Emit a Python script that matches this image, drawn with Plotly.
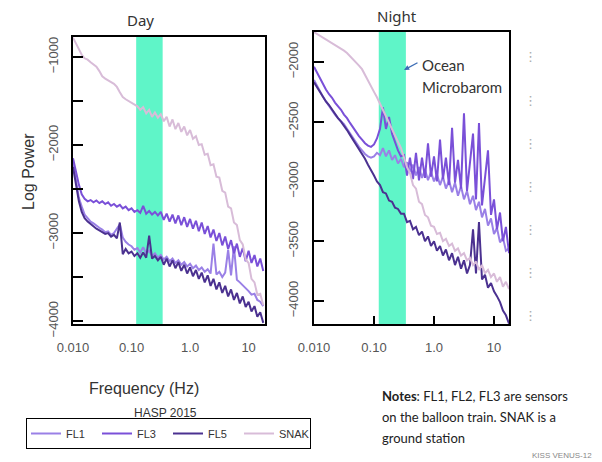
import plotly.graph_objects as go

# ---------------- data ----------------
freq = [
    0.0100, 0.0112, 0.0126, 0.0141, 0.0158, 0.0178, 0.0200, 0.0224, 0.0251, 0.0282,
    0.0316, 0.0355, 0.0398, 0.0447, 0.0501, 0.0562, 0.0631, 0.0708, 0.0794, 0.0891,
    0.100, 0.112, 0.126, 0.141, 0.158, 0.178, 0.200, 0.224, 0.251, 0.282,
    0.316, 0.355, 0.398, 0.447, 0.501, 0.562, 0.631, 0.708, 0.794, 0.891,
    1.00, 1.12, 1.26, 1.41, 1.58, 1.78, 2.00, 2.24, 2.51, 2.82,
    3.16, 3.55, 3.98, 4.47, 5.01, 5.62, 6.31, 7.08, 7.94, 8.91,
    10.0, 11.2, 12.6, 14.1, 15.8, 17.8,
]

day_fl1 = [
    -2200, -2420, -2600, -2700, -2790, -2830, -2870, -2890, -2920, -2940,
    -2960, -2990, -2980, -3020, -3000, -2950, -2900, -3050, -3100, -3130,
    -3150, -3190, -3170, -3220, -3160, -3230, -3200, -3260, -3230, -3280,
    -3250, -3300, -3270, -3320, -3290, -3340, -3310, -3360, -3330, -3380,
    -3350, -3400, -3370, -3420, -3390, -3440, -3410, -3460, -3120, -3470,
    -3440, -3500, -3450, -3190, -3480, -3150, -3530, -3560, -3590, -3630,
    -3660, -3700, -3690, -3760, -3780, -3830,
]
day_fl3 = [
    -2150, -2300, -2450, -2560, -2610, -2640, -2625, -2650, -2630, -2660,
    -2640, -2670, -2650, -2690, -2670, -2700, -2680, -2720, -2700, -2740,
    -2720, -2760, -2740, -2770, -2690, -2780, -2750, -2790, -2760, -2800,
    -2760, -2850, -2780, -2870, -2790, -2890, -2800, -2910, -2820, -2930,
    -2840, -2950, -2860, -2980, -2880, -3010, -2920, -3050, -2960, -3090,
    -3000, -3140, -3040, -3180, -3080, -3230, -3120, -3270, -3170, -3320,
    -3200, -3340, -3250, -3380, -3290, -3430,
]
day_fl5 = [
    -2250, -2450, -2640, -2760, -2830, -2870, -2900, -2920, -2950, -2970,
    -2990, -3010, -3000, -3040, -3020, -3060, -2880, -3240, -3180, -3230,
    -3210, -3260, -3230, -3280, -3220, -3280, -3030, -3290, -3260, -3310,
    -3270, -3360, -3290, -3380, -3310, -3400, -3330, -3430, -3360, -3460,
    -3390, -3490, -3420, -3520, -3450, -3560, -3480, -3600, -3520, -3640,
    -3560, -3680, -3600, -3720, -3640, -3760, -3680, -3800, -3720, -3840,
    -3780, -3890, -3830, -3950, -3900, -4020,
]
day_snak = [
    -780, -840, -905, -975, -1015, -1030, -1060, -1085, -1110, -1160,
    -1220, -1245, -1270, -1285, -1305, -1340, -1400, -1455, -1480, -1500,
    -1520, -1545, -1560, -1600, -1570, -1640, -1600, -1680, -1630, -1690,
    -1650, -1730, -1680, -1790, -1710, -1820, -1750, -1850, -1790, -1890,
    -1830, -1930, -1900, -2000, -1990, -2110, -2100, -2230, -2220, -2360,
    -2370, -2520, -2540, -2700, -2720, -2880, -2910, -3080, -3130, -3300,
    -3340, -3520, -3560, -3700, -3690, -3820,
]

night_fl1 = [
    -2150, -2200, -2250, -2290, -2330, -2370, -2400, -2440, -2470, -2500,
    -2520, -2560, -2600, -2640, -2680, -2710, -2740, -2770, -2790, -2800,
    -2790, -2760, -2780, -2720, -2790, -2740, -2820, -2780, -2850, -2810,
    -2880, -2840, -2920, -2860, -2950, -2880, -2970, -2900, -2990, -2920,
    -3000, -2940, -3030, -2960, -3060, -2990, -3090, -3010, -3120, -3040,
    -3150, -3080, -3190, -3120, -3240, -3170, -3300, -3230, -3370, -3310,
    -3440, -3390, -3510, -3470, -3580, -3560,
]
night_fl3 = [
    -2040, -2090, -2140, -2190, -2230, -2270, -2300, -2340, -2370, -2400,
    -2440, -2470, -2510, -2550, -2590, -2620, -2650, -2680, -2700, -2710,
    -2690, -2640, -2560, -2380, -2560, -2460, -2600, -2680, -2740, -2790,
    -2780, -2950, -2800, -2980, -2760, -2990, -2800, -2970, -2680, -2960,
    -2790, -3000, -2650, -2980, -2800, -3030, -2550, -3010, -2820, -3060,
    -2430, -3080, -2850, -2600, -3150, -2510, -3200, -2950, -2740, -3280,
    -3150, -3400, -3260, -3500, -3380, -3600,
]
night_fl5 = [
    -2170, -2210, -2250, -2290, -2330, -2360, -2400, -2440, -2470, -2500,
    -2530, -2570, -2610, -2650, -2690, -2730, -2770, -2810, -2860, -2900,
    -2950, -3000, -3030, -3090, -3100, -3160, -3170, -3220, -3230, -3270,
    -3270, -3340, -3330, -3400, -3380, -3450, -3420, -3500, -3460, -3540,
    -3500, -3580, -3540, -3620, -3570, -3660, -3600, -3700, -3630, -3730,
    -3660, -3770, -3700, -3400, -3770, -3340, -3820, -3780, -3890, -3850,
    -3920, -3960, -4010, -4080, -4120, -4190,
]
night_snak = [
    -1750, -1765, -1780, -1800, -1815, -1830, -1840, -1860, -1870, -1890,
    -1905, -1925, -1950, -1975, -2000, -2030, -2060, -2110, -2150, -2200,
    -2250, -2295, -2350, -2410, -2460, -2510, -2560, -2620, -2670, -2720,
    -2800, -2880, -2930, -3030, -3060, -3170, -3190, -3280, -3300, -3370,
    -3380, -3440, -3430, -3500, -3480, -3540, -3520, -3580, -3560, -3620,
    -3600, -3660, -3640, -3700, -3670, -3740, -3700, -3770, -3740, -3800,
    -3770, -3840, -3800, -3880, -3840, -3900,
]

series_names = ["FL1", "FL3", "FL5", "SNAK"]
series_colors = ["#9a80e6", "#7a50d8", "#4b3190", "#d8bcd8"]
day_series = [day_fl1, day_fl3, day_fl5, day_snak]
night_series = [night_fl1, night_fl3, night_fl5, night_snak]

band_lo, band_hi = 0.12, 0.34          # ocean microbarom band (Hz)
x_tickvals = [0.01, 0.1, 1, 10]
x_ticktext = ["0.010", "0.10", "1.0", "10"]
day_yticks = [-4000, -3500, -3000, -2500, -2000, -1500, -1000]
day_yticktext = ["\u22124000", "", "\u22123000", "", "\u22122000", "", "\u22121000"]
night_yticks = [-4000, -3500, -3000, -2500, -2000]
night_yticktext = ["\u22124000", "\u22123500", "\u22123000", "\u22122500", "\u22122000"]

# ---------------- figure ----------------
W, H = 602, 462
def px(x): return x / W
def py(y): return 1 - y / H

fig = go.Figure()
for name, color, d, n in zip(series_names, series_colors, day_series, night_series):
    fig.add_trace(go.Scatter(x=freq, y=d, mode="lines", name=name, legendgroup=name,
                             line=dict(color=color, width=2), xaxis="x", yaxis="y"))
    fig.add_trace(go.Scatter(x=freq, y=n, mode="lines", name=name, legendgroup=name,
                             showlegend=False,
                             line=dict(color=color, width=2), xaxis="x2", yaxis="y2"))

band_color = "#5ff5c8"
fig.add_shape(type="rect", xref="x", yref="y domain", x0=band_lo, x1=band_hi, y0=0, y1=1,
              fillcolor=band_color, line=dict(width=0), layer="below")
fig.add_shape(type="rect", xref="x2", yref="y2 domain", x0=band_lo, x1=band_hi, y0=0, y1=1,
              fillcolor=band_color, line=dict(width=0), layer="below")

tick_font = dict(family="Liberation Sans, Arial", size=13, color="#555555")
axis_common = dict(showline=True, mirror=True, linecolor="black", linewidth=2,
                   showgrid=False, zeroline=False, tickfont=tick_font, automargin=False)

fig.update_layout(
    template="none",
    width=W, height=H,
    margin=dict(l=0, r=0, t=0, b=0, pad=0, autoexpand=False),
    paper_bgcolor="white", plot_bgcolor="white",
    xaxis=dict(domain=[px(73), px(265)], type="log", range=[-2, 1.28], anchor="y",
               tickvals=x_tickvals, ticktext=x_ticktext, ticks="",
               ticklabelstandoff=10, **axis_common),
    yaxis=dict(domain=[py(324), py(37)], range=[-4033, -773], anchor="x",
               tickvals=day_yticks, ticktext=day_yticktext, ticks="inside",
               ticklen=10, tickwidth=2, tickcolor="black", tickangle=-90,
               ticklabelstandoff=8, **axis_common),
    xaxis2=dict(domain=[px(314), px(509)], type="log", range=[-2, 1.25], anchor="y2",
                tickvals=x_tickvals, ticktext=x_ticktext, ticks="inside",
                ticklen=8, tickwidth=2, tickcolor="black",
                ticklabelstandoff=10, **axis_common),
    yaxis2=dict(domain=[py(324), py(32)], range=[-4193, -1749], anchor="x2",
                tickvals=night_yticks, ticktext=night_yticktext, ticks="inside",
                ticklen=10, tickwidth=2, tickcolor="black", tickangle=-90,
                ticklabelstandoff=9, **axis_common),
    showlegend=True,
    legend=dict(orientation="h", x=px(26), y=py(418), xanchor="left", yanchor="top",
                bordercolor="black", borderwidth=1, bgcolor="white",
                font=dict(family="Liberation Sans, Arial", size=11, color="#333333"),
                entrywidth=26, entrywidthmode="pixels", itemwidth=30),
)

def note(x, y, text, size, family="Liberation Sans, Arial", color="#333333",
         xanchor="center", angle=0):
    fig.add_annotation(x=px(x), y=py(y), xref="paper", yref="paper", text=text,
                       showarrow=False, xanchor=xanchor, yanchor="middle", textangle=angle,
                       font=dict(family=family, size=size, color=color))

note(140, 20, "Day", 15, family="Noto Sans", color="#333333")
note(397, 16, "Night", 15, family="Noto Sans", color="#333333")
note(28, 172, "Log Power", 16, angle=-90)
note(144, 388, "Frequency (Hz)", 16)
note(165, 413, "HASP 2015", 12)
note(420, 65, "Ocean", 15, family="Lato", xanchor="left")
note(420, 87, "Microbarom", 15, family="Lato", xanchor="left")
note(380, 396, "<b>Notes</b>: FL1, FL2, FL3 are sensors", 13, family="Lato",
     color="#222222", xanchor="left")
note(380, 417, "on the balloon train. SNAK is a", 13, family="Lato",
     color="#222222", xanchor="left")
note(380, 438, "ground station", 13, family="Lato", color="#222222", xanchor="left")
note(530, 455, "KISS VENUS-12", 8, color="#888888", xanchor="left")
for yy in [57, 100, 143, 186, 229, 272, 315]:
    note(530, yy, "\u22ee", 13, family="DejaVu Sans", color="#aaaaaa")

# arrow pointing at the band
fig.add_annotation(x=px(404), y=py(70), xref="paper", yref="paper", text="",
                   showarrow=True, ax=15, ay=-8, axref="pixel", ayref="pixel",
                   arrowhead=2, arrowsize=0.8, arrowwidth=1.3, arrowcolor="#3d6db5")

fig.write_html("out.html", config={"displayModeBar": False},
               post_script="document.body.style.margin='0px';")
